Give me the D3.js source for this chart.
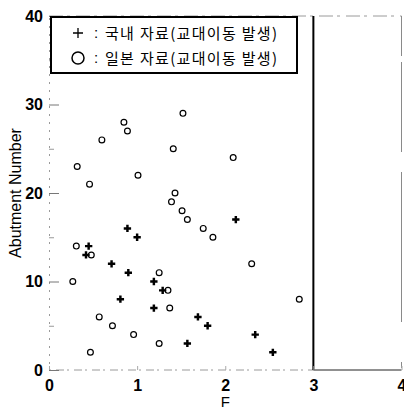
<!DOCTYPE html>
<html><head><meta charset="utf-8">
<script src="https://cdn.jsdelivr.net/npm/d3@7"></script>
<style>body{margin:0;background:#fff}svg{display:block}</style>
</head><body>
<script>
// Korean data (+)
const koreaF = [2.12,0.89,1.00,0.45,0.42,0.71,0.90,1.19,1.29,0.81,1.19,1.69,1.80,2.34,1.57,2.54];
const koreaN = [17,16,15,14,13,12,11,10,9,8,7,6,5,4,3,2];
// Japan data (o)
const japanF = [1.52,0.85,0.89,0.60,1.41,2.09,0.32,1.01,0.46,1.43,1.39,1.51,1.57,1.75,1.86,0.31,0.48,2.30,1.25,0.27,1.35,2.84,1.37,0.57,0.72,0.96,1.25,0.47];
const japanN = [29,28,27,26,25,24,23,22,21,20,19,18,17,16,15,14,13,12,11,10,9,8,7,6,5,4,3,2];
const xTicks = [0,1,2,3,4];
const yTicks = [0,10,20,30,40];
const yMinor = [5,15,25,35];
const legendLabels = ["국내 자료(교대이동 발생)","일본 자료(교대이동 발생)"];
const xTitle = "F", yTitle = "Abutment Number";

const W=404,H=409;
const svg=d3.select("body").append("svg").attr("width",W).attr("height",H);
const x=d3.scaleLinear().domain([0,4]).range([49,401.5]);
const y=d3.scaleLinear().domain([0,40]).range([370,16]);
const font="'Liberation Sans', Arial, sans-serif";

// faint frame lines (scanned look)
const faint="#9a9a9a";
svg.append("line").attr("x1",x(0)).attr("x2",x(4)).attr("y1",y(40)).attr("y2",y(40))
  .attr("stroke",faint).attr("stroke-width",1).attr("stroke-dasharray","14,4,3,6");
svg.append("line").attr("x1",x(0)).attr("x2",x(3)).attr("y1",y(0)).attr("y2",y(0))
  .attr("stroke",faint).attr("stroke-width",1).attr("stroke-dasharray","2,5,8,3");
svg.append("line").attr("x1",x(4)).attr("x2",x(4)).attr("y1",y(40)).attr("y2",y(0))
  .attr("stroke","#8a8a8a").attr("stroke-width",1).attr("stroke-dasharray","40,6,90,20,150");
svg.append("line").attr("x1",x(3)).attr("x2",x(4)).attr("y1",y(0)).attr("y2",y(0))
  .attr("stroke","#222").attr("stroke-width",1);
svg.append("line").attr("x1",x(3)).attr("x2",x(3)).attr("y1",y(40)).attr("y2",y(0))
  .attr("stroke","#000").attr("stroke-width",2);

// y axis
const ya=svg.append("g").attr("transform",`translate(${x(0)},0)`)
  .call(d3.axisLeft(y).tickValues(yTicks).tickSize(-10).tickPadding(6).tickFormat(d3.format("d")));
ya.select(".domain").attr("stroke",faint).attr("stroke-dasharray","2,6");
ya.selectAll(".tick line").attr("stroke","#777");
ya.selectAll(".tick text").attr("font-family",font).attr("font-size",16).attr("font-weight","bold").attr("fill","#000");
svg.append("g").attr("transform",`translate(${x(0)},0)`)
  .call(d3.axisLeft(y).tickValues(yMinor).tickSize(-5).tickFormat(""))
  .call(g=>{g.select(".domain").remove();g.selectAll("line").attr("stroke","#999");});

// x axis
const xa=svg.append("g").attr("transform",`translate(0,${y(0)})`)
  .call(d3.axisBottom(x).tickValues(xTicks).tickSize(-4).tickPadding(10).tickFormat(d3.format("d")));
xa.select(".domain").remove();
xa.selectAll(".tick line").attr("stroke","#aaa");
xa.selectAll(".tick text").attr("font-family",font).attr("font-size",16).attr("font-weight","bold").attr("fill","#000");

// titles
svg.append("text").attr("x",x(2)).attr("y",407).attr("text-anchor","middle")
  .attr("font-family",font).attr("font-size",15).text(xTitle);
svg.append("text").attr("transform",`translate(21,${y(20)}) rotate(-90)`).attr("text-anchor","middle")
  .attr("font-family",font).attr("font-size",16).text(yTitle);

// data
const jp=japanF.map((f,i)=>({f,n:japanN[i]}));
const kr=koreaF.map((f,i)=>({f,n:koreaN[i]}));
svg.append("g").selectAll("circle").data(jp).join("circle")
  .attr("cx",d=>x(d.f)).attr("cy",d=>y(d.n)).attr("r",2.9)
  .attr("fill","none").attr("stroke","#000").attr("stroke-width",1.2);
const plus=d3.symbol().type(d3.symbolCross).size(30);
svg.append("g").selectAll("path").data(kr).join("path")
  .attr("transform",d=>`translate(${x(d.f)},${y(d.n)})`)
  .attr("d",plus).attr("fill","#000");

// legend
const lg=svg.append("g");
lg.append("rect").attr("x",51).attr("y",17).attr("width",246).attr("height",56)
  .attr("fill","#fff").attr("stroke","#000").attr("stroke-width",2);
lg.append("path").attr("d","M73,33H83M78,28V38").attr("stroke","#000").attr("stroke-width",1.3);
lg.append("circle").attr("cx",78).attr("cy",58).attr("r",6).attr("fill","none").attr("stroke","#000").attr("stroke-width",1.5);
[33,58].forEach((cy,i)=>{
  lg.append("text").attr("x",94).attr("y",cy+5).attr("font-family",font).attr("font-size",15).text(":");
  lg.append("text").attr("x",105).attr("y",cy+6).attr("font-family","'Noto Sans CJK KR'")
    .attr("font-size",15).attr("textLength",172).attr("lengthAdjust","spacing").text(legendLabels[i]);
});
</script>
</body></html>
